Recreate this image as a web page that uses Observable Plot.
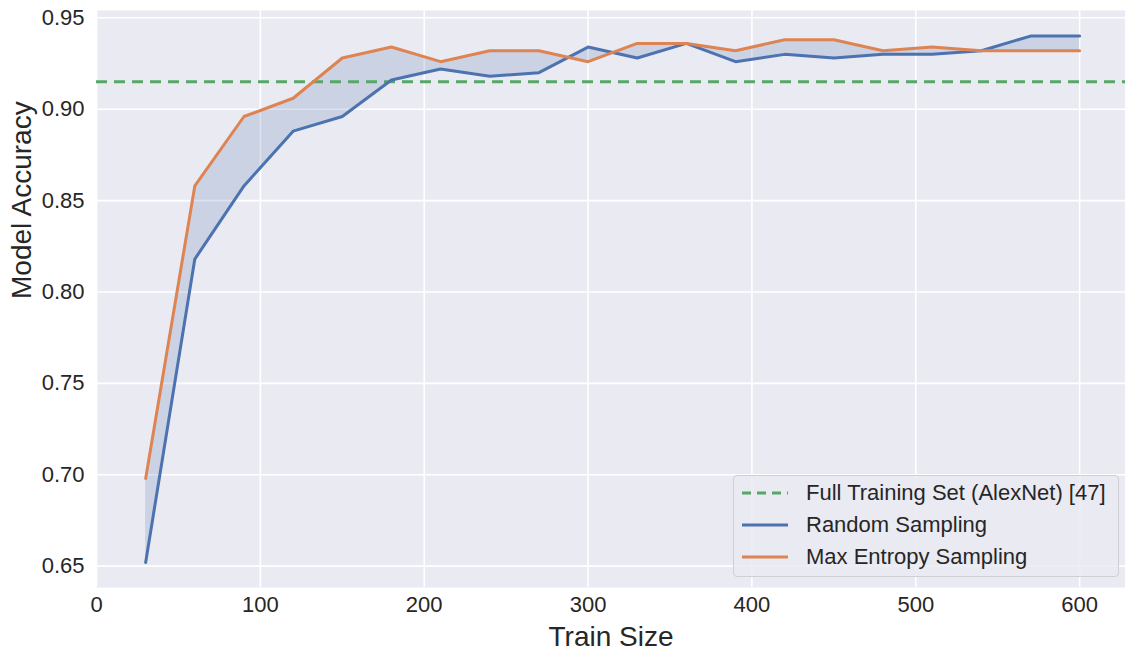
<!DOCTYPE html>
<html>
<head>
<meta charset="utf-8">
<script src="https://cdn.jsdelivr.net/npm/d3@7"></script>
<script src="https://cdn.jsdelivr.net/npm/@observablehq/plot@0.6"></script>
<style>
  html, body { margin: 0; padding: 0; background: #fff; }
  #wrap { position: relative; width: 1125px; height: 650px; font-family: "Liberation Sans", Arial, sans-serif; }
  #legend { position: absolute; left: 733px; top: 475px; width: 386px; height: 102px;
    background: rgba(234,234,242,0.85); border: 1px solid #cfcfd6; border-radius: 4px; box-sizing: border-box; }
  .row { position: absolute; left: 0; height: 30px; display: flex; align-items: center; font-size: 22px; color: #262626; }
  .row svg { margin-left: 7px; margin-right: 17px; }
</style>
</head>
<body>
<div id="wrap">
  <div id="chart"></div>
  <div id="legend"></div>
</div>
<script>
const trainSize = [30, 60, 90, 120, 150, 180, 210, 240, 270, 300, 330, 360, 390, 420, 450, 480, 510, 540, 570, 600];
const randomSampling = [0.652, 0.818, 0.858, 0.888, 0.896, 0.916, 0.922, 0.918, 0.920, 0.934, 0.928, 0.936, 0.926, 0.930, 0.928, 0.930, 0.930, 0.932, 0.940, 0.940];
const maxEntropy = [0.698, 0.858, 0.896, 0.906, 0.928, 0.934, 0.926, 0.932, 0.932, 0.926, 0.936, 0.936, 0.932, 0.938, 0.938, 0.932, 0.934, 0.932, 0.932, 0.932];
const fullTrainingSet = 0.915;
const xTicks = [0, 100, 200, 300, 400, 500, 600];
const yTicks = [0.65, 0.70, 0.75, 0.80, 0.85, 0.90, 0.95];
const seriesNames = ["Full Training Set (AlexNet) [47]", "Random Sampling", "Max Entropy Sampling"];
const colors = ["#55a868", "#4c72b0", "#dd8452"];

const rows = trainSize.map((x, i) => ({x, r: randomSampling[i], m: maxEntropy[i]}));

const chart = Plot.plot({
  width: 1125,
  height: 650,
  marginLeft: 96,
  marginTop: 10,
  marginRight: 0,
  marginBottom: 63,
  style: { fontFamily: "Liberation Sans, Arial, sans-serif", fontSize: "22px", color: "#262626", background: "transparent" },
  x: { domain: [0, 628], ticks: xTicks, label: null },
  y: { domain: [0.6383, 0.954], ticks: yTicks, label: null },
  marks: [
    Plot.frame({ fill: "#eaeaf2", stroke: null }),
    Plot.gridX(xTicks, { stroke: "#ffffff", strokeOpacity: 1, strokeWidth: 1.6 }),
    Plot.gridY(yTicks, { stroke: "#ffffff", strokeOpacity: 1, strokeWidth: 1.6 }),
    Plot.areaY(rows, { x: "x", y1: "r", y2: "m", fill: colors[1], fillOpacity: 0.2 }),
    Plot.ruleY([fullTrainingSet], { stroke: colors[0], strokeWidth: 3, strokeDasharray: "11,7" }),
    Plot.lineY(rows, { x: "x", y: "r", stroke: colors[1], strokeWidth: 3 }),
    Plot.lineY(rows, { x: "x", y: "m", stroke: colors[2], strokeWidth: 3 }),
    Plot.axisX(xTicks, { tickSize: 0, tickPadding: 9, fontSize: 22, label: null }),
    Plot.axisY(yTicks, { tickSize: 0, tickPadding: 12, fontSize: 22, tickFormat: d3.format(".2f"), label: null }),
    Plot.text(["Train Size"], { frameAnchor: "bottom", dy: 58, fontSize: 28, fill: "#262626" }),
    Plot.text(["Model Accuracy"], { frameAnchor: "left", dx: -74, rotate: -90, fontSize: 28, fill: "#262626" })
  ]
});
document.getElementById("chart").appendChild(chart);

const legend = document.getElementById("legend");
seriesNames.forEach((name, i) => {
  const row = document.createElement("div");
  row.className = "row";
  row.style.top = (2 + i * 32) + "px";
  const dash = i === 0 ? 'stroke-dasharray="9,6"' : '';
  row.innerHTML = `<svg width="48" height="10"><line x1="1" y1="5" x2="47" y2="5" stroke="${colors[i]}" stroke-width="3" ${dash}/></svg><span>${name}</span>`;
  legend.appendChild(row);
});
</script>
</body>
</html>
